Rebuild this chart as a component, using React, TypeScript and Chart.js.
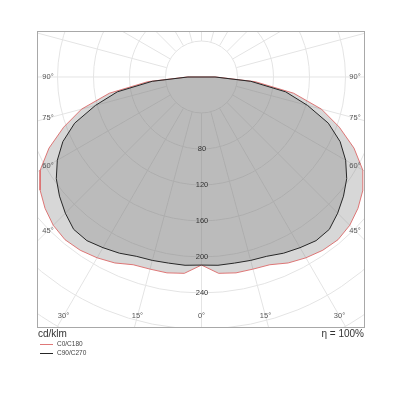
import React, { useEffect, useRef } from 'react';
import { Chart, registerables } from 'chart.js';

Chart.register(...registerables);

// Gamma angles (degrees from nadir) at which intensities are read
const ANGLES = [0, 5, 10, 15, 20, 25, 30, 35, 40, 45, 50, 55, 60, 65, 70, 75, 80, 85, 90];
// Luminous intensity, cd/klm
const C0_C180 = [209, 219, 221, 221, 222, 228, 232, 235, 236, 233, 227, 219, 207, 187, 163, 138, 104, 60, 16];
const C90_C270 = [209, 210, 210, 211, 212, 216, 219, 222, 221, 214, 206, 197, 185, 170, 150, 122, 95, 55, 15];

const SERIES_NAMES = ['C0/C180', 'C90/C270'];
const GRID_RINGS = [40, 80, 120, 160, 200, 240, 280, 320, 360];
const RING_LABELS = [80, 120, 160, 200, 240];
const ANGLE_LABELS = [0, 15, 30, 45, 60, 75, 90];
const UNIT_TEXT = 'cd/klm';
const EFFICIENCY_TEXT = 'η = 100%';

const RED = 'rgba(220, 105, 105, 0.9)';
const DARK = '#262626';
const FONT = '"Liberation Sans", Arial, sans-serif';

function toPolygon(vals: number[]) {
  const pts: { x: number; y: number }[] = [];
  // left half (C180 / C270), from 90° down to 0°
  for (let i = ANGLES.length - 1; i >= 0; i--) {
    const g = (ANGLES[i] * Math.PI) / 180;
    pts.push({ x: -vals[i] * Math.sin(g), y: -vals[i] * Math.cos(g) });
  }
  // right half (C0 / C90), from 0° up to 90°
  for (let i = 1; i < ANGLES.length; i++) {
    const g = (ANGLES[i] * Math.PI) / 180;
    pts.push({ x: vals[i] * Math.sin(g), y: -vals[i] * Math.cos(g) });
  }
  pts.push({ ...pts[0] });
  return pts;
}

const photometricPlugin = {
  id: 'photometric',
  beforeDatasetsDraw(chart: any) {
    const { ctx, chartArea: a, scales } = chart;
    const cx = scales.x.getPixelForValue(0);
    const cy = scales.y.getPixelForValue(0);
    const unit = scales.x.getPixelForValue(1) - cx;
    ctx.save();
    ctx.beginPath();
    ctx.rect(a.left, a.top, a.right - a.left, a.bottom - a.top);
    ctx.clip();
    ctx.strokeStyle = '#e4e4e4';
    ctx.lineWidth = 1;
    for (const v of GRID_RINGS) {
      ctx.beginPath();
      ctx.arc(cx, cy, v * unit, 0, Math.PI * 2);
      ctx.stroke();
    }
    const r0 = GRID_RINGS[0] * unit;
    const r1 = 600 * unit;
    for (let d = 0; d < 360; d += 15) {
      const t = (d * Math.PI) / 180;
      const sx = Math.sin(t), sy = Math.cos(t);
      ctx.beginPath();
      ctx.moveTo(cx + sx * r0, cy + sy * r0);
      ctx.lineTo(cx + sx * r1, cy + sy * r1);
      ctx.stroke();
    }
    ctx.restore();
  },
  afterDatasetsDraw(chart: any) {
    const { ctx, chartArea: a, scales } = chart;
    const cx = scales.x.getPixelForValue(0);
    const cy = scales.y.getPixelForValue(0);
    const unit = scales.x.getPixelForValue(1) - cx;
    ctx.save();
    // ring labels
    ctx.fillStyle = '#333';
    ctx.font = `7.5px ${FONT}`;
    ctx.textAlign = 'center';
    ctx.textBaseline = 'middle';
    for (const v of RING_LABELS) {
      ctx.fillText(String(v), cx + 0.5, cy + v * unit);
    }
    // angle labels
    ctx.fillStyle = '#555';
    ctx.font = `7.5px ${FONT}`;
    const L = a.left + 11, R = a.right - 10, B = a.bottom - 12;
    for (const g of ANGLE_LABELS) {
      const t = (g * Math.PI) / 180;
      const sides = g === 0 ? [1] : [-1, 1];
      for (const s of sides) {
        let x: number, y: number;
        if (g === 0) {
          x = cx; y = B;
        } else {
          const bound = s < 0 ? cx - L : R - cx;
          const tt = bound / Math.sin(t);
          y = cy + tt * Math.cos(t);
          x = cx + s * bound;
          if (y > B) {
            const tb = (B - cy) / Math.cos(t);
            y = B;
            x = cx + s * tb * Math.sin(t);
          }
        }
        ctx.fillText(`${g}°`, x, y);
      }
    }
    // frame
    ctx.strokeStyle = '#a8a8a8';
    ctx.lineWidth = 1;
    ctx.strokeRect(a.left + 0.5, a.top + 0.5, a.right - a.left - 1, a.bottom - a.top - 1);
    // texts below
    ctx.fillStyle = '#333';
    ctx.font = `10px ${FONT}`;
    ctx.textBaseline = 'middle';
    ctx.textAlign = 'left';
    ctx.fillText(UNIT_TEXT, a.left + 1, a.bottom + 6);
    ctx.textAlign = 'right';
    ctx.fillText(EFFICIENCY_TEXT, a.right - 1, a.bottom + 6);
    // legend
    const colors = [RED, DARK];
    ctx.font = `6.5px ${FONT}`;
    ctx.textAlign = 'left';
    SERIES_NAMES.forEach((name, i) => {
      const y = a.bottom + 16 + i * 9;
      ctx.strokeStyle = colors[i];
      ctx.beginPath();
      ctx.moveTo(a.left + 3, y + 0.5);
      ctx.lineTo(a.left + 16, y + 0.5);
      ctx.stroke();
      ctx.fillStyle = '#444';
      ctx.fillText(name, a.left + 20, y);
    });
    ctx.restore();
  },
};

export default function App() {
  const ref = useRef<HTMLCanvasElement | null>(null);
  useEffect(() => {
    if (!ref.current) return;
    const chart = new Chart(ref.current, {
      type: 'scatter',
      data: {
        datasets: [
          {
            label: SERIES_NAMES[1],
            data: toPolygon(C90_C270),
            showLine: true,
            borderColor: DARK,
            borderWidth: 1,
            backgroundColor: 'rgba(124,124,124,0.3)',
            fill: 'shape',
            pointRadius: 0,
            tension: 0,
          },
          {
            label: SERIES_NAMES[0],
            data: toPolygon(C0_C180),
            showLine: true,
            borderColor: RED,
            borderWidth: 1,
            backgroundColor: 'rgba(124,124,124,0.3)',
            fill: 'shape',
            pointRadius: 0,
            tension: 0,
          },
        ],
      },
      options: {
        responsive: false,
        animation: false,
        layout: { padding: { left: 37, top: 31, right: 35, bottom: 72 } },
        scales: {
          x: { type: 'linear', min: -182.8, max: 181.7, display: false },
          y: { type: 'linear', min: -278.9, max: 51.1, display: false },
        },
        plugins: { legend: { display: false }, tooltip: { enabled: false } },
      },
      plugins: [photometricPlugin],
    });
    return () => chart.destroy();
  }, []);
  return (
    <div style={{ position: 'absolute', left: 0, top: 0, width: 400, height: 400 }}>
      <canvas ref={ref} width={400} height={400} />
    </div>
  );
}
